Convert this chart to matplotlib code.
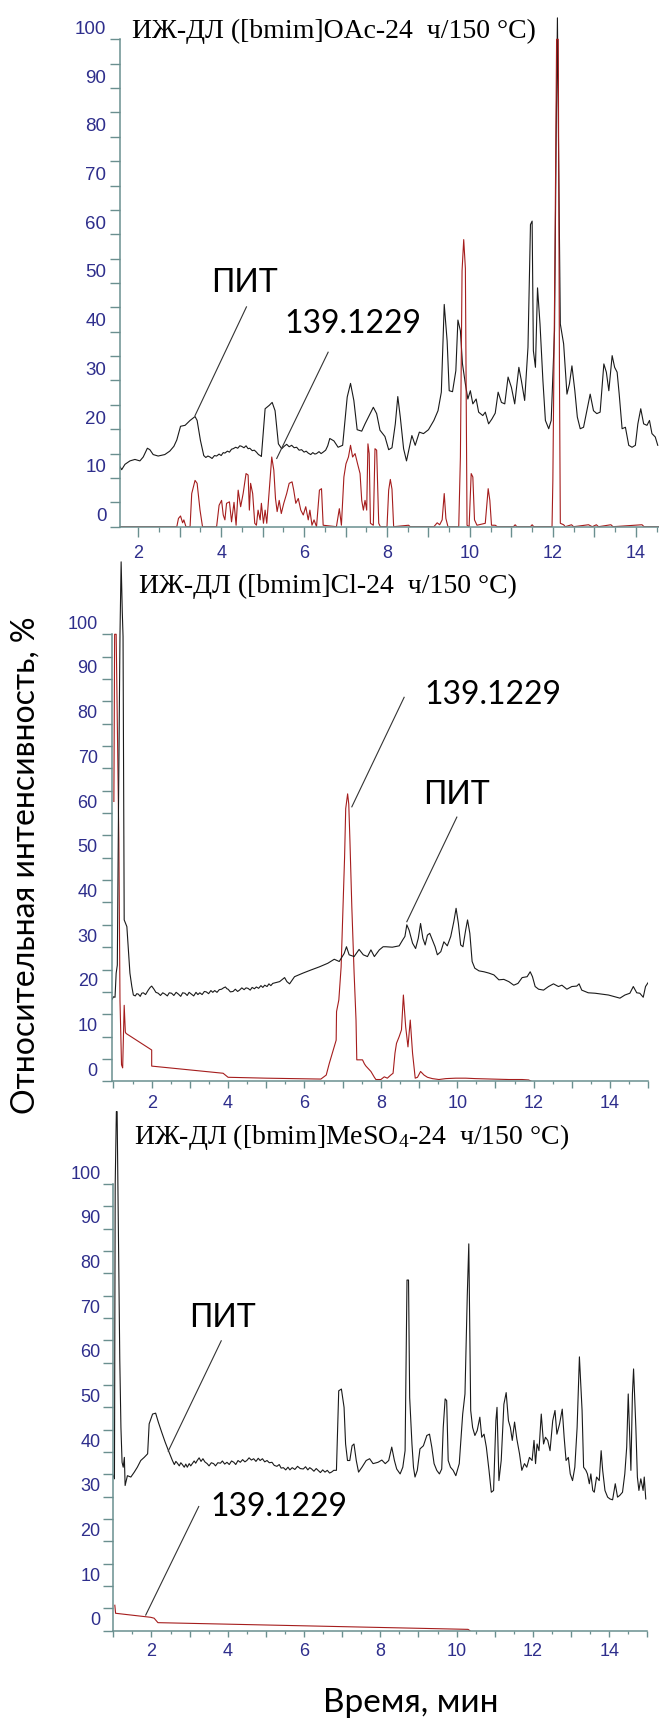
import matplotlib
matplotlib.use("Agg")
import matplotlib.pyplot as plt
from matplotlib import font_manager
from matplotlib.ticker import FixedLocator, MultipleLocator, FuncFormatter
from matplotlib.transforms import ScaledTranslation

# ---------------- data (retention time, min / relative intensity, %) ----------------
# panel 1: [bmim]OAc
oac_t = [1.56, 1.60, 1.68, 1.80, 1.92, 2.04, 2.12, 2.22, 2.28, 2.36,
         2.48, 2.64, 2.76, 2.86, 2.93, 3.02, 3.13, 3.25, 3.37, 3.42,
         3.50,
         3.58, 3.63, 3.68, 3.73, 3.78, 3.84, 3.89, 3.95, 4.00, 4.05,
         4.09, 4.15, 4.20, 4.25, 4.29, 4.35, 4.40, 4.45, 4.49, 4.55,
         4.60, 4.65, 4.69, 4.75, 4.80, 4.85, 4.90, 4.94, 4.97,
         5.06, 5.16, 5.23, 5.30, 5.38,
         5.46, 5.52, 5.58, 5.64, 5.70, 5.76, 5.82, 5.88, 5.94, 6.00,
         6.05, 6.10, 6.16, 6.21, 6.26, 6.30, 6.36, 6.41, 6.46, 6.52,
         6.57, 6.62,
         6.72, 6.82, 6.93, 7.04, 7.12, 7.20,
         7.28, 7.39, 7.47, 7.57, 7.67, 7.75, 7.83, 7.95, 8.04, 8.12,
         8.20, 8.26, 8.32, 8.40, 8.47, 8.54, 8.60, 8.68, 8.78, 8.88,
         9.00, 9.13, 9.23, 9.31, 9.38, 9.45, 9.50, 9.58, 9.66, 9.71,
         9.77, 9.82, 9.89, 9.95, 10.01, 10.07, 10.15, 10.21, 10.31, 10.37,
         10.45, 10.53, 10.61, 10.68, 10.76, 10.84, 10.92, 11.00, 11.08, 11.18,
         11.24, 11.32, 11.40, 11.46, 11.50, 11.53, 11.58, 11.63, 11.69, 11.76,
         11.82, 11.90, 11.96, 12.04, 12.08, 12.11, 12.14, 12.18, 12.26, 12.34,
         12.40, 12.46, 12.53, 12.59, 12.66, 12.74, 12.82, 12.90, 12.98, 13.06,
         13.14, 13.23, 13.29, 13.35, 13.43, 13.49, 13.55, 13.60, 13.67, 13.75,
         13.83, 13.91, 13.99, 14.05, 14.12, 14.19, 14.27, 14.33, 14.39, 14.47,
         14.53]
oac_tic = [12.3, 11.7, 12.8, 13.5, 13.8, 13.5, 14.3, 16.1, 15.8, 14.8,
           14.5, 14.8, 15.5, 16.5, 17.8, 20.6, 20.8, 21.8, 22.6, 21.8,
           17.7,
           14.6, 14.2, 14.5, 14.3, 14.0, 14.6, 14.5, 14.9, 14.6, 15.2,
           15.1, 15.5, 15.3, 15.9, 16.0, 16.3, 16.1, 16.6, 16.5, 16.2,
           16.6, 16.0, 16.1, 15.6, 15.7, 15.3, 14.8, 14.6, 14.4,
           24.2, 24.9, 25.5, 23.8, 17.0,
           16.0, 16.5, 16.9, 16.4, 16.7, 16.2, 16.3, 15.7, 15.8, 15.3,
           15.5, 15.1, 14.8, 15.2, 14.9, 15.0, 15.4, 15.0, 15.3, 15.7,
           16.6, 18.1,
           17.6, 16.3, 16.7, 26.6, 29.4, 25.9,
           19.9, 19.6, 21.1, 22.8, 24.5, 23.2, 19.8, 18.5, 15.8, 16.2,
           21.1, 26.7, 22.5, 16.0, 13.5, 16.3, 18.7, 16.7, 19.4, 19.1,
           19.9, 21.8, 23.8, 27.6, 45.6, 38.1, 27.9, 27.7, 32.0, 42.4,
           40.2, 33.4, 29.3, 26.2, 27.9, 25.2, 26.2, 23.5, 22.8, 23.5,
           21.1, 22.1, 23.3, 27.6, 25.5, 25.2, 30.7, 28.6, 25.2, 32.7,
           30.0, 25.9, 36.8, 62.0, 62.7, 36.1, 32.7, 49.0, 41.6, 30.0,
           21.8, 20.1, 21.8, 40.2, 80.0, 104.4, 75.0, 41.6, 37.5, 27.2,
           29.3, 33.0, 27.9, 22.5, 20.1, 20.4, 23.8, 27.2, 23.8, 23.2,
           23.5, 33.4, 31.7, 27.9, 35.1, 32.7, 31.7, 27.2, 20.1, 20.4,
           16.7, 16.3, 16.7, 21.1, 24.2, 21.1, 20.8, 21.8, 19.1, 18.4,
           16.7]
oac_eic_t = [1.56, 2.93, 2.97, 3.02, 3.07, 3.10, 3.15, 3.25, 3.29, 3.37,
             3.42, 3.49, 3.55, 3.89, 3.95, 4.01, 4.05, 4.09, 4.13, 4.20,
             4.25, 4.31, 4.36, 4.41, 4.47, 4.53, 4.60, 4.65, 4.68, 4.71,
             4.76, 4.81, 4.85, 4.89, 4.94, 4.97, 5.02, 5.06, 5.10, 5.16,
             5.22, 5.27, 5.31, 5.35, 5.40, 5.45, 5.51, 5.58, 5.64, 5.71,
             5.75, 5.80, 5.86, 5.92, 5.98, 6.04, 6.10, 6.14, 6.19, 6.24,
             6.30, 6.37, 6.42, 6.46, 6.78, 6.85, 6.90, 6.96, 7.01, 7.07,
             7.12, 7.17, 7.23, 7.29, 7.35, 7.39, 7.43, 7.47, 7.51, 7.54,
             7.57, 7.60, 7.67, 7.71, 7.75, 7.80, 7.84, 8.00, 8.04, 8.08,
             8.12, 8.16, 8.52, 8.56, 9.13, 9.21, 9.27, 9.33, 9.38, 9.42,
             9.47, 9.73, 9.77, 9.81, 9.85, 9.89, 9.93, 9.98, 10.03, 10.07,
             10.11, 10.17, 10.37, 10.44, 10.48, 10.52, 10.61, 10.66, 11.05, 11.09,
             11.13, 11.46, 11.50, 11.54, 11.98, 12.00, 12.05, 12.09, 12.13, 12.16,
             12.18, 12.26, 12.30, 12.45, 12.50, 12.86, 12.95, 13.05, 13.10, 13.40,
             13.45, 14.15, 14.20, 14.55]
oac_eic = [0, 0, 1.7, 2.2, 0.8, 1.4, 0, 0, 6.8, 9.5,
           8.9, 3.4, 0, 0, 4.4, 5.4, 2.4, 1.4, 4.8, 5.1,
           1.0, 5.0, 0.3, 7.5, 4.1, 6.8, 10.9, 10.6, 3.4, 8.9,
           6.8, 0.7, 0.3, 3.4, 1.4, 4.8, 0.7, 3.4, 0.7, 7.5,
           14.3, 11.6, 5.8, 3.1, 5.4, 2.7, 4.8, 6.8, 8.9, 9.2,
           7.5, 4.8, 5.8, 3.4, 2.4, 4.1, 1.4, 3.4, 0.3, 1.4,
           0, 7.5, 7.8, 0.3, 0, 3.7, 0.3, 10.2, 12.9, 14.3,
           16.7, 14.3, 15.0, 12.9, 10.9, 5.4, 3.4, 5.4, 3.4, 17.0,
           15.0, 0.7, 0.3, 16.0, 15.7, 0.7, 0, 0, 7.5, 9.7,
           7.7, 0, 0.3, 0, 0, 0.8, 0.4, 1.4, 6.8, 1.7,
           0, 0, 14.3, 52.5, 58.9, 53.0, 0.3, 0, 10.9, 10.2,
           1.4, 0.3, 0.7, 7.8, 5.4, 0.3, 0.3, 0, 0, 0.4,
           0, 0, 0.4, 0, 0, 9.5, 55, 100, 100, 30,
           0.7, 0.4, 0, 0.4, 0, 0.4, 0, 0.4, 0, 0.4,
           0, 0.4, 0, 0]

# panel 2: [bmim]Cl
cl_t = [0.96, 1.00, 1.04, 1.07, 1.10, 1.13, 1.17, 1.20, 1.23, 1.25,
        1.28, 1.35, 1.39, 1.43, 1.48, 1.52,
        1.57, 1.61, 1.65, 1.70, 1.74, 1.78, 1.84, 1.91, 1.96, 2.00,
        2.06, 2.11, 2.17, 2.23, 2.29, 2.35, 2.41, 2.46, 2.52, 2.58,
        2.64, 2.70, 2.76, 2.81, 2.87, 2.93, 2.98, 3.04, 3.10, 3.16,
        3.21, 3.26, 3.32, 3.38, 3.43, 3.49, 3.55, 3.60, 3.65, 3.71,
        3.77, 3.83, 3.88, 3.93, 3.97, 4.00, 4.06, 4.13, 4.19, 4.25,
        4.30, 4.36, 4.42, 4.47, 4.52, 4.58, 4.63, 4.69, 4.74, 4.80,
        4.86, 4.91, 4.96, 5.02, 5.07, 5.12, 5.17,
        5.35, 5.48, 5.54, 5.61, 5.74, 5.96, 6.17, 6.39, 6.61, 6.78,
        6.91, 7.04, 7.10, 7.17, 7.30, 7.43, 7.54, 7.65, 7.74, 7.83,
        7.96, 8.06, 8.13, 8.30, 8.48, 8.57, 8.63, 8.68, 8.74, 8.83,
        8.91, 8.98, 9.04, 9.10, 9.16, 9.22, 9.28, 9.35, 9.42, 9.48,
        9.57, 9.65, 9.74, 9.83, 9.91, 9.97, 10.03, 10.09, 10.15, 10.22,
        10.27, 10.33, 10.39, 10.46, 10.57, 10.70, 10.83, 10.96, 11.09, 11.22,
        11.35, 11.48, 11.59, 11.70, 11.83, 11.91, 11.97, 12.04, 12.13, 12.26,
        12.39, 12.52, 12.65, 12.74, 12.87, 13.00, 13.13, 13.19, 13.26, 13.43,
        13.61, 13.78, 13.96, 14.13, 14.26, 14.39, 14.52, 14.61, 14.70, 14.78,
        14.87, 14.93, 15.00]
cl_tic = [18.3, 18.9, 18.8, 24.2, 26.0, 60.0, 100.0, 116.2, 105.0, 99.5,
          36.1, 34.6, 29.4, 24.2, 21.2, 19.3,
          19.1, 19.6, 19.5, 19.0, 19.7, 19.8, 19.4, 20.4, 21.0, 21.3,
          20.6, 19.9, 19.7, 19.2, 19.8, 19.5, 19.1, 19.8, 19.7, 19.2,
          19.9, 19.5, 19.0, 19.8, 19.7, 19.2, 19.9, 19.5, 19.1, 19.9,
          19.4, 19.8, 19.4, 20.1, 20.0, 19.6, 20.3, 19.9, 20.3, 19.9,
          20.5, 20.6, 20.9, 21.1, 20.7, 20.6, 20.0, 20.1, 20.6, 20.1,
          20.4, 20.9, 20.5, 20.9, 20.8, 20.4, 21.0, 20.7, 21.1, 20.8,
          21.4, 21.0, 21.5, 21.2, 21.8, 21.4, 21.9,
          22.3, 23.2, 22.3, 21.8, 23.4, 24.2, 24.9, 25.6, 26.4, 27.3,
          26.8, 28.6, 30.1, 28.3, 27.9, 29.5, 28.3, 27.9, 29.4, 27.9,
          29.4, 30.1, 30.1, 30.0, 30.3, 31.6, 32.4, 35.0, 33.8, 30.9,
          29.7, 32.0, 35.3, 32.0, 30.5, 32.7, 33.1, 31.6, 30.1, 28.3,
          29.0, 31.2, 30.3, 32.4, 35.7, 38.7, 35.3, 30.5, 30.1, 33.8,
          36.1, 33.1, 26.8, 25.3, 24.7, 24.5, 24.2, 23.8, 22.7, 22.8,
          22.3, 21.5, 21.9, 23.2, 23.4, 24.5, 23.4, 21.2, 20.6, 20.4,
          21.2, 21.8, 21.2, 21.5, 20.6, 21.2, 21.3, 21.8, 20.4, 19.8,
          19.7, 19.5, 19.3, 18.9, 18.6, 19.3, 19.7, 21.2, 19.8, 19.7,
          18.8, 21.2, 22.1]
cl_eic_t = [1.01, 1.03, 1.07, 1.14, 1.17, 1.19, 1.21, 1.24, 1.28, 1.31,
            1.33, 2.00, 2.00, 3.87, 4.00, 5.00, 6.43, 6.57, 6.65, 6.83,
            6.84, 6.90, 6.96, 7.05, 7.08, 7.13, 7.16, 7.19, 7.24, 7.30,
            7.35, 7.37, 7.52, 7.57, 7.61, 7.74, 7.83, 7.87, 8.00, 8.09,
            8.17, 8.26, 8.32, 8.37, 8.41, 8.48, 8.54, 8.59, 8.65, 8.71,
            8.77, 8.83, 8.90, 8.96, 9.04, 9.13, 9.22, 9.35, 9.52, 9.70,
            9.96, 10.22, 10.48, 10.91, 11.35, 11.70, 11.87, 11.94]
cl_eic = [62.6, 100, 100, 54, 18, 11, 3.7, 3.0, 17.0, 11.0,
          10.7, 7.0, 3.4, 1.8, 0.9, 0.7, 0.5, 1.4, 4.0, 9.2,
          15.6, 18.2, 25.6, 50, 61, 64.3, 62, 54, 39, 24.2,
          13.7, 4.8, 4.8, 3.9, 3.4, 2.2, 0.9, 0.4, 0.4, 1.0,
          0.7, 1.4, 1.8, 6.3, 8.5, 10.0, 11.5, 19.3, 12.2, 7.7,
          13.7, 6.3, 0.7, 0.9, 2.2, 1.4, 0.9, 0.6, 0.4, 0.6,
          0.7, 0.7, 0.6, 0.5, 0.4, 0.4, 0.3, 0.0]

# panel 3: [bmim]MeSO4
meso_t = [1.00, 1.03, 1.05, 1.08, 1.10, 1.12, 1.17, 1.20, 1.23, 1.26,
          1.29, 1.31, 1.37, 1.46, 1.55, 1.63, 1.72, 1.81, 1.90, 1.94,
          2.03, 2.11, 2.18, 2.27, 2.36, 2.46,
          2.55, 2.60, 2.64, 2.68, 2.73, 2.77, 2.81, 2.86, 2.90, 2.94,
          2.99, 3.03, 3.07, 3.12, 3.16, 3.20, 3.25, 3.30, 3.35, 3.40,
          3.46, 3.51, 3.57, 3.63, 3.68, 3.74, 3.81, 3.86, 3.92, 3.98,
          4.04, 4.10, 4.16, 4.21, 4.27, 4.33, 4.39, 4.45, 4.50, 4.56,
          4.62, 4.68, 4.74, 4.80, 4.85, 4.91, 4.97, 5.03, 5.09, 5.16,
          5.22, 5.29, 5.35, 5.40, 5.46, 5.52, 5.58, 5.63, 5.69, 5.76,
          5.83, 5.90, 5.98, 6.04, 6.10, 6.15, 6.20, 6.26, 6.32, 6.37,
          6.43, 6.49, 6.55, 6.61, 6.67, 6.72, 6.78, 6.85,
          6.91, 6.98, 7.05, 7.09, 7.14, 7.20,
          7.26, 7.31, 7.37, 7.43, 7.52, 7.63, 7.72, 7.81, 7.94, 8.04,
          8.13, 8.22, 8.30, 8.37, 8.43, 8.52, 8.59, 8.65, 8.70, 8.74,
          8.77, 8.83, 8.87, 8.91, 8.97, 9.04, 9.13, 9.22, 9.29, 9.35,
          9.41, 9.48, 9.55, 9.61, 9.65, 9.70, 9.74, 9.78, 9.84, 9.91,
          9.98, 10.07, 10.16, 10.22, 10.28, 10.32, 10.37, 10.42, 10.48, 10.54,
          10.61, 10.66, 10.72, 10.78, 10.85, 10.91, 10.97, 11.03, 11.06, 11.11,
          11.17, 11.24, 11.30, 11.36, 11.41, 11.46, 11.52, 11.58, 11.65, 11.71,
          11.78, 11.84, 11.91, 11.98, 12.03, 12.07, 12.11, 12.16, 12.22, 12.28,
          12.33, 12.39, 12.45, 12.52, 12.58, 12.63, 12.70, 12.77, 12.82, 12.87,
          12.93, 12.98, 13.04, 13.10, 13.16, 13.22, 13.29, 13.33, 13.39, 13.43,
          13.48, 13.52, 13.57, 13.61, 13.67, 13.74, 13.79, 13.83, 13.89, 13.96,
          14.02, 14.09, 14.16, 14.22, 14.28, 14.35, 14.41, 14.46, 14.50, 14.57,
          14.61, 14.64, 14.70, 14.74, 14.78, 14.83, 14.89, 14.92, 14.96]
meso_tic = [34.7, 34.0, 100.0, 116.2, 116.2, 100.0, 60.6, 45.5, 37.7, 36.6,
            38.8, 32.5, 34.7, 34.4, 35.5, 36.6, 38.1, 38.8, 39.6, 46.3,
            48.5, 48.7, 46.7, 44.4, 42.2, 40.0,
            38.1, 37.2, 37.9, 37.5, 36.9, 37.6, 37.2, 36.6, 37.3, 36.6,
            37.4, 36.9, 37.4, 38.0, 37.5, 38.1, 38.7, 37.9, 38.5, 37.8,
            37.4, 36.9, 37.6, 37.4, 36.9, 37.6, 37.5, 38.0, 37.3, 37.7,
            37.2, 38.0, 37.7, 37.2, 38.1, 37.7, 38.3, 37.8, 38.1, 38.7,
            38.2, 38.5, 37.9, 38.6, 38.1, 38.5, 37.8, 38.1, 37.6, 37.7,
            37.0, 36.8, 37.2, 36.4, 36.5, 36.0, 36.6, 36.0, 36.5, 36.1,
            36.8, 36.3, 36.2, 36.7, 36.0, 36.5, 36.2, 35.7, 36.3, 35.9,
            35.4, 36.0, 35.5, 35.9, 35.3, 35.5, 35.9, 35.9,
            53.7, 54.1, 50.0, 41.8, 38.1, 38.1,
            41.4, 41.8, 38.1, 35.5, 36.6, 38.1, 38.5, 37.4, 37.7, 38.2,
            37.4, 38.1, 41.1, 38.1, 36.2, 35.1, 36.6, 40.3, 78.5, 78.5,
            52.2, 41.8, 36.6, 34.4, 35.9, 40.7, 41.4, 43.7, 44.0, 41.1,
            37.4, 35.9, 35.1, 36.2, 45.5, 51.9, 51.5, 38.1, 36.6, 35.9,
            34.7, 37.4, 48.5, 53.0, 75.0, 86.6, 49.3, 45.5, 43.7, 44.8,
            47.8, 43.3, 44.0, 41.1, 35.9, 31.0, 31.4, 47.0, 50.0, 33.6,
            38.1, 50.7, 53.3, 47.0, 45.5, 42.6, 46.7, 42.9, 39.6, 35.9,
            37.4, 36.6, 38.8, 38.1, 42.6, 37.4, 41.8, 40.3, 48.5, 41.8,
            43.3, 42.6, 40.3, 47.0, 49.3, 44.0, 46.3, 49.6, 43.3, 38.1,
            38.8, 35.1, 33.6, 36.6, 45.5, 61.3, 49.3, 36.6, 35.9, 35.1,
            32.9, 35.1, 31.4, 31.0, 34.4, 33.6, 40.3, 35.9, 31.4, 29.9,
            29.5, 29.3, 32.9, 29.9, 30.3, 31.0, 35.1, 41.1, 53.0, 35.9,
            53.0, 58.6, 45.5, 34.4, 31.4, 34.0, 31.4, 34.4, 29.5]
meso_eic_t = [1.04, 1.06, 1.98, 2.07, 2.17, 10.30, 10.35]
meso_eic = [5.7, 3.9, 3.0, 2.8, 1.8, 0.3, 0.0]

titles = ["ИЖ-ДЛ ([bmim]OAc-24  ч/150 °C)",
          "ИЖ-ДЛ ([bmim]Cl-24  ч/150 °C)",
          "ИЖ-ДЛ ([bmim]MeSO$\\mathregular{_4}$-24  ч/150 °C)"]
mz_label = "139.1229"
peak_label = "ПИТ"

# ---------------- styling ----------------
_names = {f.name for f in font_manager.fontManager.ttflist}
tick_font = "Liberation Sans Narrow" if "Liberation Sans Narrow" in _names else "Liberation Sans"
note_font = "Lato"
axis_col = "#6a8f8f"
tick_txt = "#2e2e8c"
black_col = "#1a1a1a"
red_col = "#a51d1d"

W, H = 659, 1722
fig = plt.figure(figsize=(W / 100, H / 100), dpi=100)


def px_axes(left, right, zero_y, top_y):
    # rectangle in pixel units of the picture (y measured from the top)
    return [left / W, 1 - zero_y / H, (right - left) / W, (zero_y - top_y) / H]


def style_axes(ax, xlim, ytop, ylab_size, ytick_len, ypad, xtick_len, xpad):
    ax.set_facecolor("none")
    ax.set_xlim(*xlim)
    ax.set_ylim(0, ytop)
    for s in ("top", "right"):
        ax.spines[s].set_visible(False)
    ax.spines["left"].set_bounds(0, 100)
    for s in ("left", "bottom"):
        ax.spines[s].set_color(axis_col)
        ax.spines[s].set_linewidth(1.1)
    ax.yaxis.set_major_locator(FixedLocator(list(range(0, 101, 5))))
    ax.yaxis.set_major_formatter(FuncFormatter(lambda v, p: f"{v:.0f}" if round(v) % 10 == 0 else ""))
    ax.xaxis.set_major_locator(MultipleLocator(1))
    ax.xaxis.set_minor_locator(MultipleLocator(0.5))
    ax.xaxis.set_major_formatter(FuncFormatter(lambda v, p: f"{v:.0f}" if round(v) % 2 == 0 else ""))
    ax.tick_params(axis="y", which="major", length=ytick_len, width=1.0, color=axis_col,
                   labelcolor=tick_txt, labelsize=ylab_size, pad=ypad)
    ax.tick_params(axis="x", which="major", length=xtick_len, width=1.0, color=axis_col,
                   labelcolor=tick_txt, labelsize=13, pad=xpad)
    ax.tick_params(axis="x", which="minor", length=xtick_len * 0.45, width=0.9, color=axis_col)
    for lab in ax.get_xticklabels() + ax.get_yticklabels():
        lab.set_fontfamily(tick_font)
    # the instrument software prints y labels a little above their ticks
    shift = ScaledTranslation(0, 0.12, fig.dpi_scale_trans)
    for tk in ax.yaxis.get_major_ticks():
        tk.label1.set_transform(tk.label1.get_transform() + shift)


def note(ax, text, txy, start, end):
    ax.plot([start[0], end[0]], [start[1], end[1]], color="#333333", lw=0.8, clip_on=False)
    ax.text(txy[0], txy[1], text, ha="center", va="center", fontsize=23,
            family=note_font, color="black")


# panel 1
ax1 = fig.add_axes(px_axes(120, 659, 526.7, 0.3))
ax1.plot(oac_t, oac_tic, color=black_col, lw=0.8)
ax1.plot(oac_eic_t, oac_eic, color=red_col, lw=0.8)
style_axes(ax1, (1.56, 14.56), 108, 13.5, 7.2, 2.6, 7.2, 5.8)
note(ax1, peak_label, (4.57, 49.9), (4.61, 45.1), (3.37, 22.8))
note(ax1, mz_label, (7.18, 41.6), (6.58, 35.8), (5.34, 14.0))

# panel 2
ax2 = fig.add_axes(px_axes(111.7, 648.2, 1081.3, 553.8))
ax2.plot(cl_eic_t, cl_eic, color=red_col, lw=0.8)
ax2.plot(cl_t, cl_tic, color=black_col, lw=0.8)
style_axes(ax2, (0.953, 15.0), 118, 13, 7.0, 3.0, 5.3, 4.8)
note(ax2, mz_label, (10.94, 86.4), (8.61, 85.9), (7.24, 61.4))
note(ax2, peak_label, (9.99, 64.0), (9.99, 59.1), (8.68, 35.7))

# panel 3
ax3 = fig.add_axes(px_axes(113.3, 647.3, 1630.7, 1103.6))
ax3.plot(meso_t, meso_tic, color=black_col, lw=0.8)
ax3.plot(meso_eic_t, meso_eic, color=red_col, lw=0.8)
style_axes(ax3, (1.0, 15.0), 118, 13, 7.2, 2.0, 4.5, 4.5)
note(ax3, peak_label, (3.85, 70.0), (3.83, 64.9), (2.44, 40.2))
note(ax3, mz_label, (5.35, 27.8), (3.24, 27.8), (1.85, 3.5))

# panel titles
for (x0, y0), ttl in zip([(132, 31.7), (139, 586.5), (133.6, 1136.7)], titles):
    fig.text(x0 / W, 1 - y0 / H, ttl, ha="left", va="center", fontsize=20,
             family="Liberation Serif", color="black")

fig.text(26 / W, 1 - 865 / H, "Относительная интенсивность, %", rotation=90,
         ha="center", va="center", fontsize=23, family=note_font)
fig.text(411 / W, 1 - 1703 / H, "Время, мин", ha="center", va="center",
         fontsize=24, family=note_font)

fig.savefig("out.png", dpi=100)
